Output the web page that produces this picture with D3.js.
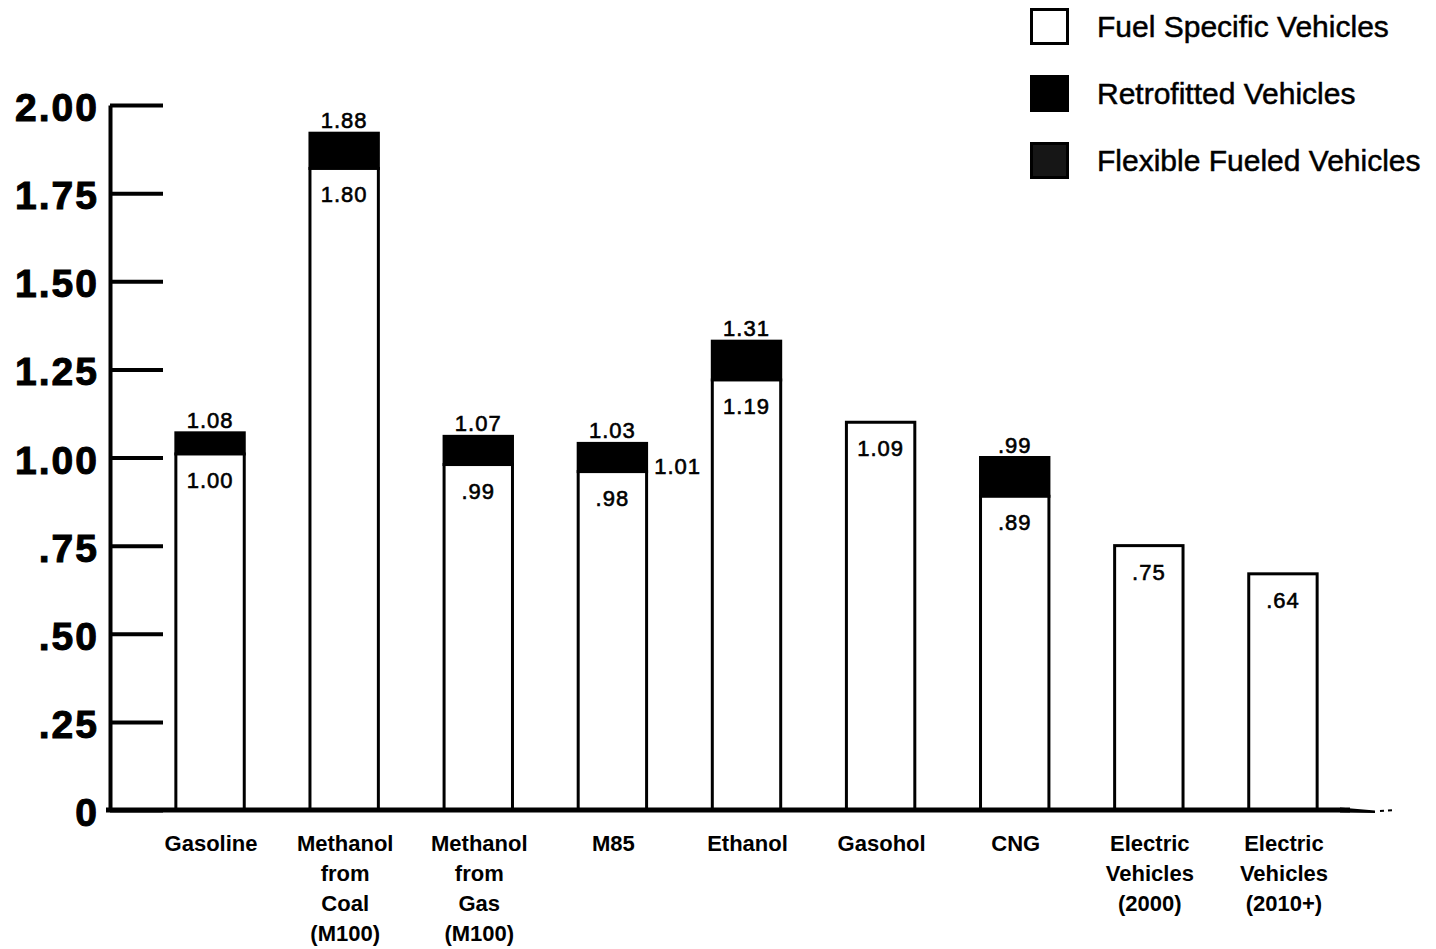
<!DOCTYPE html>
<html>

<head>
    <meta charset="UTF-8">
    <title>Relative fuel cost by vehicle type</title>
    <script src="https://d3js.org/d3.v7.min.js"></script>
    <style>
        body { margin: 0; background: #fff; }
        text { font-family: "Liberation Sans", Arial, Helvetica, sans-serif; fill: #000; }
    </style>
</head>

<body>
    <script>
        // categories along the x axis ("\n" = line break)
        const categories = ["Gasoline", "Methanol\nfrom\nCoal\n(M100)", "Methanol\nfrom\nGas\n(M100)", "M85",
            "Ethanol", "Gasohol", "CNG", "Electric\nVehicles\n(2000)", "Electric\nVehicles\n(2010+)"];

        // bar heights as drawn in the picture
        const fuelSpecific = [1.01, 1.82, 0.98, 0.96, 1.22, 1.10, 0.89, 0.75, 0.67];
        const retrofitTop = [1.07, 1.92, 1.06, 1.04, 1.33, null, 1.00, null, null];

        // printed value labels
        const fuelLabels = ["1.00", "1.80", ".99", ".98", "1.19", "1.09", ".89", ".75", ".64"];
        const topLabels = ["1.08", "1.88", "1.07", "1.03", "1.31", null, ".99", null, null];
        const flexibleLabels = [null, null, null, "1.01", null, null, null, null, null];
        const flexibleValues = [null, null, null, 1.01, null, null, null, null, null];

        const yTicks = [0, 0.25, 0.5, 0.75, 1, 1.25, 1.5, 1.75, 2];
        const legendLabels = ["Fuel Specific Vehicles", "Retrofitted Vehicles", "Flexible Fueled Vehicles"];
        const legendColors = ["#fff", "#000", "#161616"];

        const width = 1436, height = 949;

        const svg = d3.select("body").append("svg")
            .attr("width", width).attr("height", height);

        const x = d3.scaleBand()
            .domain(categories)
            .range([143, 1350])
            .paddingInner(0.49)
            .paddingOuter(0.245);

        const y = d3.scaleLinear()
            .domain([0, 2])
            .range([810, 105]);

        // y axis: ticks point inward, labels to the left
        const yAxis = svg.append("g")
            .attr("transform", "translate(110,0)")
            .call(d3.axisLeft(y)
                .tickValues(yTicks)
                .tickSizeInner(-53)
                .tickSizeOuter(0)
                .tickPadding(11)
                .tickFormat(d => d === 0 ? "0" : d3.format(".2f")(d).replace(/^0/, "")));
        yAxis.select(".domain").attr("stroke", "#000").attr("stroke-width", 4);
        yAxis.selectAll(".tick line").attr("stroke", "#000").attr("stroke-width", 4);
        yAxis.selectAll(".tick text")
            .style("font-size", "39px")
            .style("font-weight", "bold")
            .style("letter-spacing", "2px")
            .style("stroke", "#000")
            .style("stroke-width", "1px")
            .attr("dy", "0.4em");

        // bars
        const bars = svg.append("g");
        const idx = d3.range(categories.length);

        bars.selectAll("rect.cap")
            .data(idx.filter(i => retrofitTop[i] != null))
            .enter().append("rect")
            .attr("class", "cap")
            .attr("x", i => x(categories[i]))
            .attr("y", i => y(retrofitTop[i]))
            .attr("width", x.bandwidth())
            .attr("height", i => y(fuelSpecific[i]) - y(retrofitTop[i]))
            .attr("fill", "#000")
            .attr("stroke", "#000")
            .attr("stroke-width", 3);

        bars.selectAll("rect.fsv")
            .data(idx)
            .enter().append("rect")
            .attr("class", "fsv")
            .attr("x", i => x(categories[i]))
            .attr("y", i => y(fuelSpecific[i]))
            .attr("width", x.bandwidth())
            .attr("height", i => y(0) - y(fuelSpecific[i]))
            .attr("fill", "#fff")
            .attr("stroke", "#000")
            .attr("stroke-width", 3);

        const labelStyle = sel => sel
            .attr("text-anchor", "middle")
            .style("font-size", "22px")
            .style("letter-spacing", "1px")
            .style("stroke", "#000")
            .style("stroke-width", "0.6px");

        bars.selectAll("text.fsv")
            .data(idx)
            .enter().append("text")
            .attr("class", "fsv")
            .attr("x", i => x(categories[i]) + x.bandwidth() / 2)
            .attr("y", i => y(fuelSpecific[i]) + 34)
            .text(i => fuelLabels[i])
            .call(labelStyle);

        bars.selectAll("text.top")
            .data(idx.filter(i => topLabels[i] != null))
            .enter().append("text")
            .attr("class", "top")
            .attr("x", i => x(categories[i]) + x.bandwidth() / 2)
            .attr("y", i => y(retrofitTop[i]) - 5)
            .text(i => topLabels[i])
            .call(labelStyle);

        bars.selectAll("text.flex")
            .data(idx.filter(i => flexibleLabels[i] != null))
            .enter().append("text")
            .attr("class", "flex")
            .attr("x", i => x(categories[i]) + x.bandwidth() + 31)
            .attr("y", i => y(flexibleValues[i]) + 20)
            .text(i => flexibleLabels[i])
            .call(labelStyle);

        // x axis
        const xAxis = svg.append("g")
            .attr("transform", "translate(0,810)")
            .call(d3.axisBottom(x).tickSize(0).tickPadding(0).tickFormat(""));
        xAxis.select(".domain").remove();
        xAxis.append("line")
            .attr("x1", 106).attr("x2", 1350)
            .attr("stroke", "#000").attr("stroke-width", 5);
        xAxis.append("path")
            .attr("d", "M1340,-2.5L1375,0.5L1375,3L1340,2.5Z")
            .attr("fill", "#000");
        xAxis.append("line")
            .attr("x1", 1380).attr("x2", 1396).attr("y1", 1).attr("y2", 0)
            .attr("stroke", "#000").attr("stroke-width", 2).attr("stroke-dasharray", "4 4");

        xAxis.selectAll(".tick").each(function (d) {
            const t = d3.select(this).append("text")
                .attr("text-anchor", "middle")
                .style("font-size", "22px")
                .style("font-weight", "bold");
            d.split("\n").forEach((line, k) => {
                t.append("tspan").attr("x", 1).attr("y", 41 + k * 30).text(line);
            });
        });

        // legend
        const legend = svg.append("g").attr("transform", "translate(1030,8)");
        const item = legend.selectAll("g")
            .data(legendLabels)
            .enter().append("g")
            .attr("transform", (d, i) => `translate(0,${i * 67})`);
        item.append("rect")
            .attr("x", 1.5).attr("y", 1.5)
            .attr("width", 36).attr("height", 34)
            .attr("fill", (d, i) => legendColors[i])
            .attr("stroke", "#000")
            .attr("stroke-width", 3);
        item.append("text")
            .attr("x", 67).attr("y", 18)
            .attr("dy", "0.36em")
            .style("font-size", "30px")
            .style("stroke", "#000")
            .style("stroke-width", "0.5px")
            .text(d => d);
    </script>
</body>

</html>
